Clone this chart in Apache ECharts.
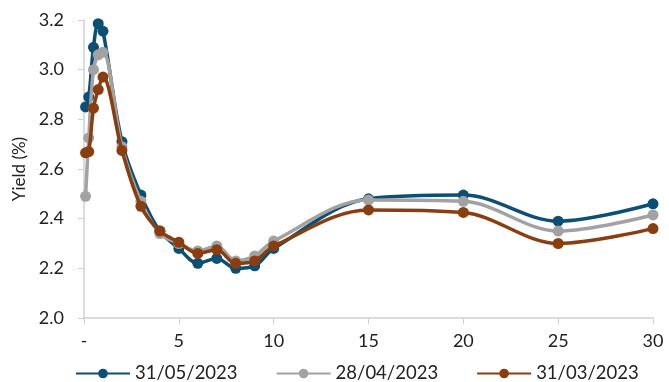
<!DOCTYPE html>
<html><head><meta charset="utf-8">
<script src="https://cdn.jsdelivr.net/npm/echarts@6/dist/echarts.min.js"></script>
<style>html,body{margin:0;padding:0;background:#fff}#c{width:669px;height:382px}</style>
</head><body><div id="c"></div>
<script>
const tenors = [0.083, 0.25, 0.5, 0.75, 1, 2, 3, 4, 5, 6, 7, 8, 9, 10, 15, 20, 25, 30];
const may23 = [2.85, 2.89, 3.09, 3.185, 3.155, 2.71, 2.495, 2.35, 2.28, 2.22, 2.24, 2.20, 2.21, 2.28, 2.48, 2.495, 2.39, 2.46];
const apr23 = [2.49, 2.725, 3.00, 3.06, 3.07, 2.69, 2.47, 2.34, 2.30, 2.27, 2.29, 2.23, 2.25, 2.31, 2.475, 2.47, 2.35, 2.415];
const mar23 = [2.665, 2.67, 2.845, 2.92, 2.97, 2.675, 2.45, 2.35, 2.305, 2.26, 2.275, 2.22, 2.23, 2.29, 2.435, 2.425, 2.30, 2.36];
const seriesNames = ['31/05/2023', '28/04/2023', '31/03/2023'];
const colors = ['#0B4F75', '#A2A2A2', '#8A3E10'];
const font = 'Lato';
const chart = echarts.init(document.getElementById('c'));
const mk = (name, vals, color, z) => ({
  name, type: 'line', smooth: 0.34, z,
  data: tenors.map((t, i) => [t, vals[i]]),
  symbol: 'circle', symbolSize: 11,
  lineStyle: {width: 3.5, color}, itemStyle: {color}
});
chart.setOption({
  animation: false,
  textStyle: {fontFamily: font},
  grid: {left: 84, right: 16, top: 20, bottom: 64},
  legend: {
    top: 364, left: 75, padding: 0, itemWidth: 54, itemHeight: 12, itemGap: 38,
    textStyle: {fontFamily: font, fontSize: 18.5, color: '#222'},
    data: seriesNames
  },
  xAxis: {
    type: 'value', min: 0, max: 30, interval: 5,
    axisLine: {lineStyle: {color: '#d0d0d0', width: 1.5}},
    axisTick: {show: true, length: 6, lineStyle: {color: '#d0d0d0'}},
    splitLine: {show: false},
    axisLabel: {fontFamily: font, fontSize: 18, color: '#222', margin: 14,
      formatter: v => v === 0 ? '-' : String(v)}
  },
  yAxis: {
    type: 'value', min: 2.0, max: 3.2, interval: 0.2,
    name: 'Yield (%)', nameLocation: 'middle', nameGap: 54, nameRotate: 90,
    nameTextStyle: {fontFamily: font, fontSize: 17, color: '#222'},
    axisLine: {show: true, lineStyle: {color: '#d0d0d0', width: 1.5}},
    axisTick: {show: true, length: 6, lineStyle: {color: '#d0d0d0'}},
    splitLine: {show: false},
    axisLabel: {fontFamily: font, fontSize: 18, color: '#222', margin: 20,
      formatter: v => v.toFixed(1)}
  },
  series: [
    mk(seriesNames[2], mar23, colors[2], 3),
    mk(seriesNames[1], apr23, colors[1], 2),
    mk(seriesNames[0], may23, colors[0], 1)
  ]
});
</script></body></html>
